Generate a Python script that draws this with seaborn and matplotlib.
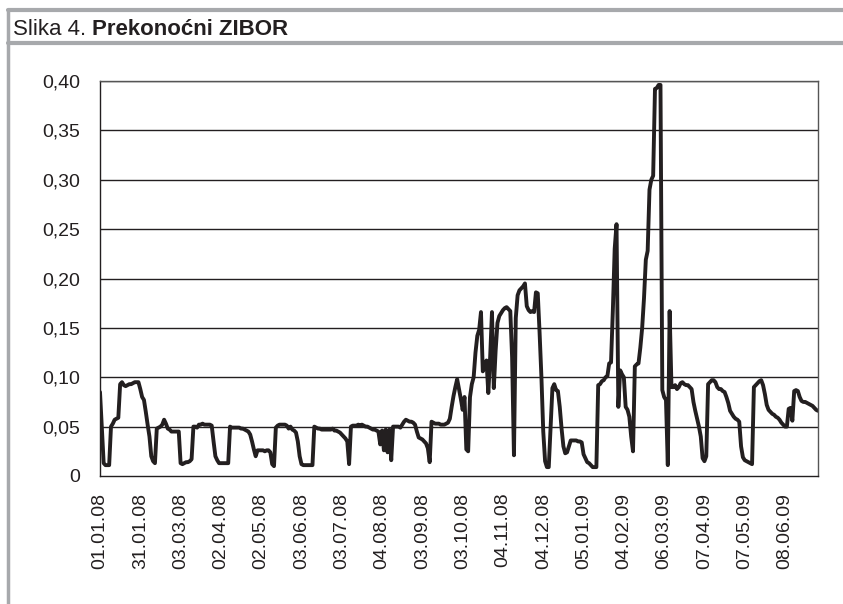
import numpy as np
import pandas as pd
import matplotlib
matplotlib.use("Agg")
import matplotlib.pyplot as plt
from matplotlib.lines import Line2D
import seaborn as sns

# ---- data (overnight ZIBOR, one value per working day from 01.01.2008) ----
zibor = [
    0.085, 0.050, 0.013, 0.011, 0.011, 0.011, 0.050, 0.053, 0.057, 0.058,
    0.059, 0.093, 0.095, 0.092, 0.091, 0.092, 0.093, 0.093, 0.094, 0.095,
    0.095, 0.095, 0.088, 0.080, 0.077, 0.065, 0.052, 0.040, 0.020, 0.015,
    0.013, 0.048, 0.049, 0.050, 0.052, 0.057, 0.053, 0.048, 0.047, 0.045,
    0.045, 0.045, 0.045, 0.045, 0.013, 0.012, 0.013, 0.014, 0.014, 0.015,
    0.017, 0.050, 0.050, 0.049, 0.052, 0.052, 0.053, 0.052, 0.052, 0.052,
    0.052, 0.051, 0.035, 0.020, 0.016, 0.013, 0.013, 0.013, 0.013, 0.013,
    0.013, 0.050, 0.049, 0.049, 0.049, 0.049, 0.049, 0.048, 0.048, 0.047,
    0.046, 0.045, 0.042, 0.035, 0.027, 0.020, 0.026, 0.026, 0.026, 0.026,
    0.025, 0.026, 0.026, 0.024, 0.012, 0.010, 0.049, 0.051, 0.052, 0.052,
    0.052, 0.052, 0.051, 0.048, 0.050, 0.047, 0.046, 0.044, 0.035, 0.020,
    0.012, 0.011, 0.011, 0.011, 0.011, 0.011, 0.011, 0.050, 0.049, 0.048,
    0.048, 0.047, 0.047, 0.047, 0.047, 0.047, 0.047, 0.048, 0.046, 0.046,
    0.045, 0.044, 0.042, 0.040, 0.038, 0.035, 0.012, 0.050, 0.051, 0.051,
    0.051, 0.052, 0.051, 0.052, 0.051, 0.050, 0.050, 0.049, 0.048, 0.047,
    0.047, 0.046, 0.045, 0.032, 0.046, 0.026, 0.047, 0.024, 0.047, 0.016,
    0.050, 0.050, 0.050, 0.050, 0.049, 0.052, 0.055, 0.057, 0.056, 0.055,
    0.055, 0.054, 0.052, 0.045, 0.039, 0.038, 0.037, 0.035, 0.033, 0.028,
    0.014, 0.055, 0.054, 0.053, 0.053, 0.053, 0.052, 0.052, 0.052, 0.053,
    0.054, 0.058, 0.070, 0.081, 0.090, 0.098, 0.088, 0.078, 0.067, 0.080,
    0.027, 0.025, 0.080, 0.093, 0.100, 0.125, 0.142, 0.148, 0.166, 0.106,
    0.112, 0.117, 0.084, 0.120, 0.166, 0.089, 0.127, 0.155, 0.162, 0.165,
    0.168, 0.170, 0.171, 0.169, 0.167, 0.120, 0.021, 0.160, 0.183, 0.188,
    0.190, 0.192, 0.195, 0.172, 0.168, 0.166, 0.167, 0.166, 0.186, 0.185,
    0.145, 0.100, 0.045, 0.015, 0.009, 0.009, 0.050, 0.089, 0.093, 0.087,
    0.086, 0.070, 0.048, 0.030, 0.023, 0.024, 0.030, 0.036, 0.036, 0.036,
    0.036, 0.035, 0.035, 0.034, 0.022, 0.018, 0.014, 0.013, 0.011, 0.009,
    0.009, 0.009, 0.092, 0.093, 0.096, 0.097, 0.100, 0.101, 0.114, 0.115,
    0.168, 0.230, 0.255, 0.070, 0.107, 0.103, 0.100, 0.070, 0.067, 0.060,
    0.040, 0.025, 0.111, 0.113, 0.114, 0.130, 0.150, 0.180, 0.219, 0.228,
    0.290, 0.300, 0.304, 0.392, 0.393, 0.396, 0.396, 0.087, 0.080, 0.077,
    0.011, 0.167, 0.090, 0.090, 0.092, 0.088, 0.090, 0.094, 0.095, 0.093,
    0.092, 0.092, 0.090, 0.088, 0.075, 0.066, 0.058, 0.050, 0.040, 0.018,
    0.015, 0.020, 0.093, 0.095, 0.097, 0.097, 0.095, 0.090, 0.088, 0.088,
    0.086, 0.085, 0.080, 0.074, 0.066, 0.063, 0.060, 0.058, 0.057, 0.055,
    0.030, 0.019, 0.016, 0.015, 0.014, 0.013, 0.012, 0.090, 0.092, 0.094,
    0.096, 0.097, 0.092, 0.083, 0.072, 0.067, 0.065, 0.063, 0.062, 0.060,
    0.059, 0.057, 0.054, 0.052, 0.050, 0.050, 0.068, 0.069, 0.056, 0.086,
    0.087, 0.086, 0.080, 0.076, 0.075, 0.075, 0.074, 0.073, 0.072, 0.071,
    0.069, 0.067, 0.066,
]
dates = pd.bdate_range("2008-01-01", periods=len(zibor))

tick_labels = [
    "01.01.08", "31.01.08", "03.03.08", "02.04.08", "02.05.08", "03.06.08",
    "03.07.08", "04.08.08", "03.09.08", "03.10.08", "04.11.08", "04.12.08",
    "05.01.09", "04.02.09", "06.03.09", "07.04.09", "07.05.09", "08.06.09",
]
tick_every = 22  # working days between labelled category ticks

y_ticks = [0.0, 0.05, 0.10, 0.15, 0.20, 0.25, 0.30, 0.35, 0.40]
y_tick_labels = ["0", "0,05", "0,10", "0,15", "0,20", "0,25", "0,30", "0,35", "0,40"]

title_regular = "Slika 4. "
title_bold = "Prekonoćni ZIBOR"

df = pd.DataFrame({"idx": np.arange(len(zibor)), "date": dates, "zibor": zibor})

# ---- styling ----
sns.set_theme(style="white")
plt.rcParams["font.family"] = ["Liberation Sans", "DejaVu Sans"]

W, H = 843, 604
fig = plt.figure(figsize=(W / 100, H / 100), dpi=100)
fig.patch.set_facecolor("white")

ax = fig.add_axes([100 / W, 1 - 476 / H, 718 / W, 395 / H])

sns.lineplot(data=df, x="idx", y="zibor", ax=ax, color="#231f20",
             linewidth=2.8, solid_joinstyle="round", solid_capstyle="round")

ax.set_xlim(0, len(zibor) - 1)
ax.set_ylim(0, 0.40)
ax.set_xlabel("")
ax.set_ylabel("")

xt = np.arange(0, len(zibor), tick_every)[:len(tick_labels)]
ax.set_xticks(xt)
ax.set_xticklabels(tick_labels, rotation=90, fontsize=14, color="#231f20")
ax.set_yticks(y_ticks)
ax.set_yticklabels(y_tick_labels, fontsize=14, color="#231f20")

for y in y_ticks[1:]:
    ax.axhline(y, color="#231f20", linewidth=1.0, zorder=0)

ax.tick_params(axis="x", direction="out", length=5, width=1, color="#231f20", pad=7)
ax.tick_params(axis="y", direction="out", length=5, width=1, color="#231f20", pad=9)
for side in ["left", "bottom"]:
    ax.spines[side].set_color("#231f20")
    ax.spines[side].set_linewidth(1.0)
for side in ["right", "top"]:
    ax.spines[side].set_color("#555555")
    ax.spines[side].set_linewidth(1.0)

# ---- frame and header ----
grey = "#a7a9ac"
fig.add_artist(Line2D([8 / W, 1], [1 - 10 / H, 1 - 10 / H], color=grey, linewidth=3))
fig.add_artist(Line2D([8 / W, 1], [1 - 43 / H, 1 - 43 / H], color=grey, linewidth=3))
fig.add_artist(Line2D([8 / W, 8 / W], [1 - 10 / H, 0], color=grey, linewidth=2.5))

t1 = fig.text(13 / W, 1 - 35 / H, title_regular, fontsize=16, color="#231f20",
              ha="left", va="baseline")
fig.canvas.draw()
bb = t1.get_window_extent()
fig.text(bb.x1 / W, 1 - 35 / H, title_bold, fontsize=16, fontweight="bold",
         color="#231f20", ha="left", va="baseline")

fig.savefig("out.png", dpi=100)
